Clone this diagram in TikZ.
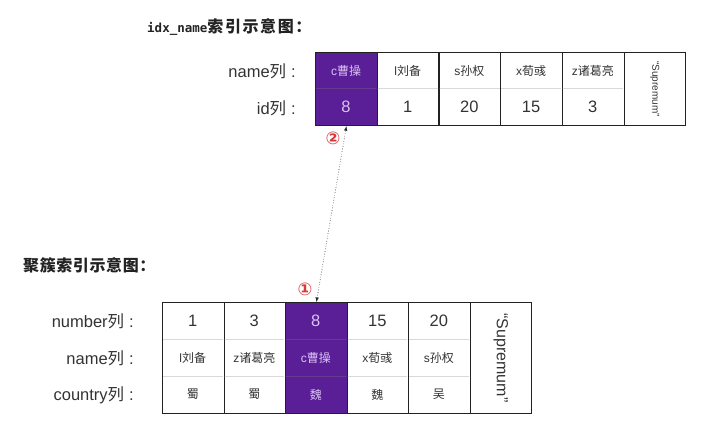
\documentclass[tikz,border=0pt]{standalone}
\usepackage{fontspec}
\setmainfont{Liberation Sans}
\newfontfamily\cjk{Noto Sans CJK SC}
\newfontfamily\monotitle{DejaVu Sans Mono}
\newfontfamily\circfont{DejaVu Sans}
\newcommand{\zh}[1]{{\cjk #1}}
\newcommand{\tsp}{\kern1.6pt}
\usetikzlibrary{positioning}
\definecolor{keypurple}{HTML}{5A1E96}
\definecolor{keytext}{HTML}{D9C2F2}
\definecolor{ink}{HTML}{333333}
\definecolor{frame}{HTML}{222222}
\definecolor{markred}{HTML}{D63A3A}
\tikzset{%
    every column/.style={
        rectangle,
        draw=frame,
        line width=1.1pt,
        minimum width=61.7pt,
        inner sep=0pt,
        anchor=north west
    },
    column key/.style={
        fill=keypurple
    },
    cell text/.style={
        text=ink,
        inner sep=0pt
    },
    cell key/.style={
        text=keytext
    },
    number font/.style={
        font=\fontsize{16.5}{18}\selectfont
    },
    name font/.style={
        font=\fontsize{12}{14}\selectfont
    },
    row line/.style={
        draw=gray,
        draw opacity=0.3,
        line width=0.6pt
    },
    row label/.style={
        anchor=east,
        text=ink,
        inner sep=0pt,
        font=\fontsize{16.5}{18}\selectfont
    },
    title/.style={
        anchor=west,
        inner sep=0pt,
        text=frame
    },
    step mark/.style={
        text=markred,
        inner sep=0pt,
        font=\circfont\bfseries\fontsize{17.5}{18}\selectfont
    },
    link/.style={
        draw=black!85,
        dotted,
        line width=0.6pt
    },
}
\begin{document}
\begin{tikzpicture}[x=1pt, y=-1pt, >=latex]
        \useasboundingbox (0,0) rectangle (709,432);

        % idx_name
        \node [title] (idx-title) at (147,27) {\monotitle\bfseries\fontsize{12.5}{14}\selectfont idx\_name\cjk\bfseries\fontsize{16}{18}\selectfont 索\tsp 引\tsp 示\tsp 意\tsp 图\tsp ：};

        \foreach \m/\n/\v [count=\i] in {key/c\zh{曹操}/8, plain/l\zh{刘备}/1, plain/s\zh{孙权}/20, plain/x\zh{荀彧}/15, plain/z\zh{诸葛亮}/3}
        {
            \node [every column/.try, column \m/.try, minimum height=73pt] (idx-\i) at ({315+(\i-1)*61.7},52) {};
            \draw [row line] ({315.6+(\i-1)*61.7},88.5) -- ++(60.5,0);
            \node [cell text, name font, cell \m/.try] (idx-name-\i) at ({346+(\i-1)*61.7},70.5) {\n};
            \node [cell text, number font, cell \m/.try] (idx-id-\i) at ({346+(\i-1)*61.7},107) {\v};
        }
        \node [every column/.try, minimum height=73pt] (idx-6) at (623.5,52) {};
        \node [cell text, rotate=-90, font=\fontsize{10}{12}\selectfont] (idx-sup) at (idx-6.center) {“Supremum”};

        \node [row label] (idx-label-1) at (296,71) {name\zh{列}\hspace{5pt}:};
        \node [row label] (idx-label-2) at (296,108) {id\zh{列}\hspace{5pt}:};

        % clustered
        \node [title] (pk-title) at (23,265.5) {\cjk\bfseries\fontsize{16}{18}\selectfont 聚\kern.6pt 簇\kern.6pt 索\kern.6pt 引\kern.6pt 示\kern.6pt 意\kern.6pt 图\kern.6pt ：};

        \foreach \m/\v/\n/\c [count=\i] in {plain/1/l\zh{刘备}/\zh{蜀}, plain/3/z\zh{诸葛亮}/\zh{蜀}, key/8/c\zh{曹操}/\zh{魏}, plain/15/x\zh{荀彧}/\zh{魏}, plain/20/s\zh{孙权}/\zh{吴}}
        {
            \node [every column/.try, column \m/.try, minimum height=111pt] (pk-\i) at ({162+(\i-1)*61.5},302) {};
            \draw [row line] ({162.6+(\i-1)*61.5},339) -- ++(60.3,0);
            \draw [row line] ({162.6+(\i-1)*61.5},376) -- ++(60.3,0);
            \node [cell text, number font, cell \m/.try] (pk-number-\i) at ({192.8+(\i-1)*61.5},320.5) {\v};
            \node [cell text, name font, cell \m/.try] (pk-name-\i) at ({192.8+(\i-1)*61.5},357.5) {\n};
            \node [cell text, name font, cell \m/.try] (pk-country-\i) at ({192.8+(\i-1)*61.5},394.5) {\c};
        }
        \node [every column/.try, minimum height=111pt, minimum width=61.5pt] (pk-6) at (469.5,302) {};
        \node [cell text, rotate=-90, font=\fontsize{16}{18}\selectfont] (pk-sup) at (pk-6.center) {“Supremum”};

        \node [row label] (pk-label-1) at (134,321) {number\zh{列}\hspace{5pt}:};
        \node [row label] (pk-label-2) at (134,358) {name\zh{列}\hspace{5pt}:};
        \node [row label] (pk-label-3) at (134,395) {country\zh{列}\hspace{5pt}:};

        % lookup
        \draw [link, <->] (pk-3.north) -- (idx-1.south);
        \node [step mark] (mark-1) at (305,289.5) {①};
        \node [step mark] (mark-2) at (333,138.5) {②};

\end{tikzpicture}
\end{document}
